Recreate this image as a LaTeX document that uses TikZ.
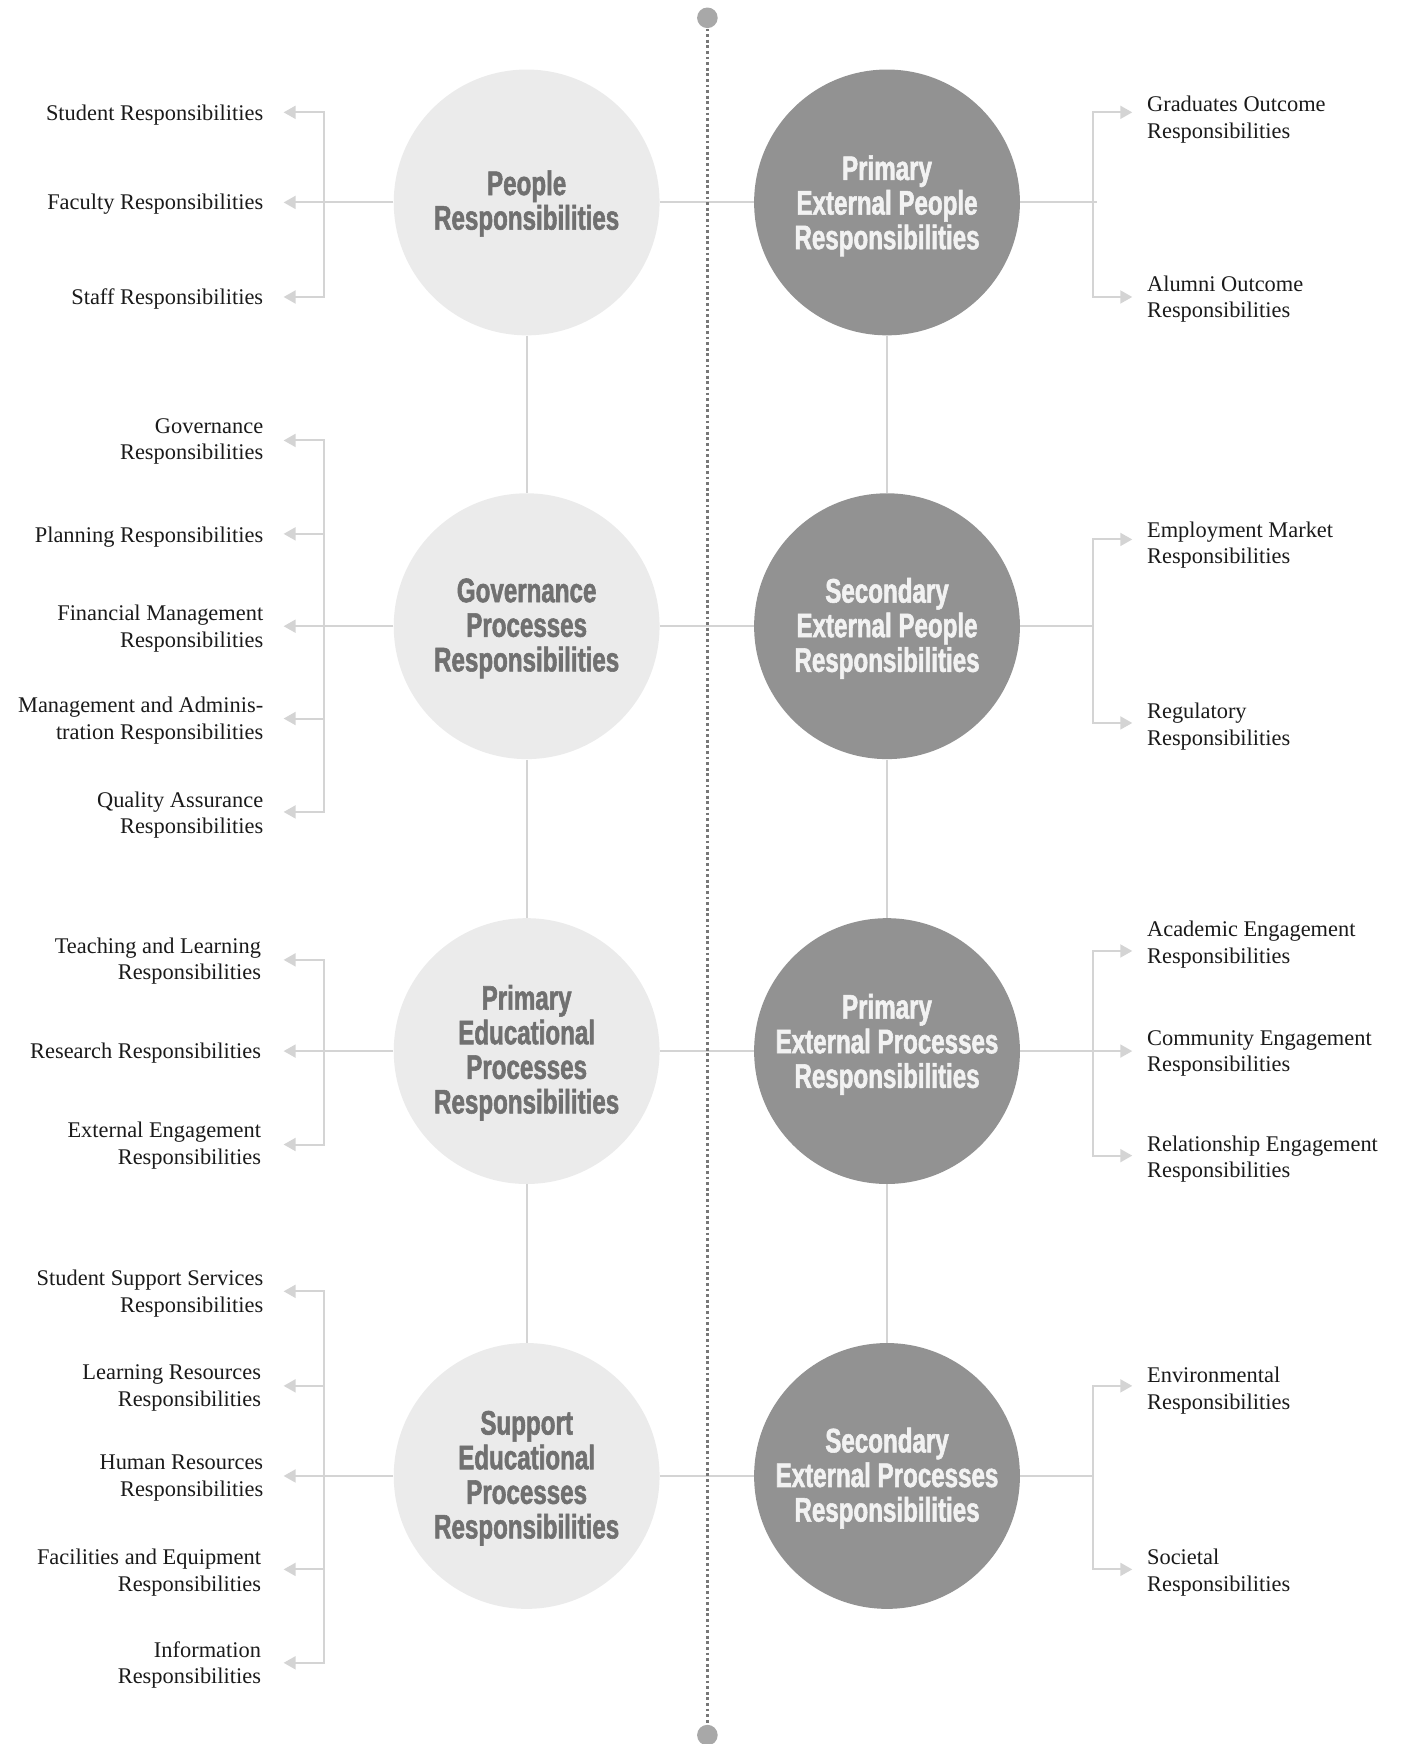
\documentclass[tikz,border=0pt]{standalone}
\usepackage{fontspec}
\setmainfont{Liberation Serif}
\newfontfamily\circfont[FakeStretch=0.71,FakeBold=1.6]{Liberation Sans}
\usetikzlibrary{arrows.meta}
\definecolor{lightc}{HTML}{EBEBEB}
\definecolor{darkc}{HTML}{929292}
\definecolor{lighttxt}{HTML}{707070}
\definecolor{darktxt}{HTML}{F2F2F2}
\definecolor{linec}{HTML}{D4D4D4}
\definecolor{dashc}{HTML}{777777}
\definecolor{dotc}{HTML}{A8A8A8}
\definecolor{lbltxt}{HTML}{1A1A1A}
\begin{document}
\begin{tikzpicture}[x=0.5561pt,y=-0.5561pt,
  circbase/.style={circle,minimum size=132.9pt,inner sep=0pt},
  lcirc/.style={circbase,fill=lightc},
  dcirc/.style={circbase,fill=darkc},
  ctext/.style={inner sep=0pt,align=center,font=\circfont\bfseries\fontsize{17}{17.3}\selectfont},
  ltext/.style={ctext,text=lighttxt},
  dtext/.style={ctext,text=darktxt},
  conn/.style={draw=linec,line width=1pt},
  arr/.style={conn,-{Triangle[length=6pt,width=6.5pt]}},
  lbl/.style={font=\fontsize{11.2}{13.3}\selectfont,inner sep=0pt,text=lbltxt,yshift=-1.4pt},
  llbl/.style={lbl,anchor=east,align=right},
  rlbl/.style={lbl,anchor=west,align=left},
  enddot/.style={circle,fill=dotc,minimum size=10.3pt,inner sep=0pt}
]
\useasboundingbox (0,0) rectangle (1260.6,1568);

% circles
\node[lcirc] (L1) at (473.5,182) {};
\node[lcirc] (L2) at (473.5,563) {};
\node[lcirc] (L3) at (473.5,945) {};
\node[lcirc] (L4) at (473.5,1327) {};
\node[dcirc] (R1) at (797.5,182) {};
\node[dcirc] (R2) at (797.5,563) {};
\node[dcirc] (R3) at (797.5,945) {};
\node[dcirc] (R4) at (797.5,1327) {};
% circle texts
\node[ltext] (L1t) at (473.5,183) {People\\Responsibilities};
\node[ltext] (L2t) at (473.5,565) {Governance\\Processes\\Responsibilities};
\node[ltext] (L3t) at (473.5,946.5) {Primary\\Educational\\Processes\\Responsibilities};
\node[ltext] (L4t) at (473.5,1329) {Support\\Educational\\Processes\\Responsibilities};
\node[dtext] (R1t) at (797.5,185) {Primary\\External People\\Responsibilities};
\node[dtext] (R2t) at (797.5,565) {Secondary\\External People\\Responsibilities};
\node[dtext] (R3t) at (797.5,939) {Primary\\External Processes\\Responsibilities};
\node[dtext] (R4t) at (797.5,1329) {Secondary\\External Processes\\Responsibilities};

% vertical links
\draw[conn] (L1) -- (L2);
\draw[conn] (L2) -- (L3);
\draw[conn] (L3) -- (L4);
\draw[conn] (R1) -- (R2);
\draw[conn] (R2) -- (R3);
\draw[conn] (R3) -- (R4);
% horizontal links
\draw[conn] (L1) -- (R1);
\draw[conn] (L2) -- (R2);
\draw[conn] (L3) -- (R3);
\draw[conn] (L4) -- (R4);

% center dashed line
\node[enddot] (dtop) at (636,16) {};
\node[enddot] (dbot) at (636,1560) {};
\draw[dashc,line width=1.3pt,dash pattern=on 1.4pt off 1.4pt] (dtop) -- (dbot);

% bracket coordinates
\coordinate (bL1) at (291,182);
\coordinate (bL2) at (291,563);
\coordinate (bL3) at (291,945);
\coordinate (bL4) at (291,1327);
\coordinate (bR1) at (983,182);
\coordinate (bR2) at (983,563);
\coordinate (bR3) at (983,945);
\coordinate (bR4) at (983,1327);

% arrow tips, left
\coordinate (tStu) at (255,101);
\coordinate (tFacu) at (255,182);
\coordinate (tSta) at (255,267);
\coordinate (tGov) at (255,396);
\coordinate (tPlan) at (255,480);
\coordinate (tFin) at (255,563);
\coordinate (tMan) at (255,646);
\coordinate (tQual) at (255,730);
\coordinate (tTeach) at (255,863);
\coordinate (tRes) at (255,945);
\coordinate (tExt) at (255,1029);
\coordinate (tSSS) at (255,1161);
\coordinate (tLR) at (255,1246);
\coordinate (tHR) at (255,1327);
\coordinate (tFE) at (255,1411);
\coordinate (tInfo) at (255,1495);
% arrow tips, right
\coordinate (tGrad) at (1018,101);
\coordinate (tAlum) at (1018,267);
\coordinate (tEmp) at (1018,485);
\coordinate (tReg) at (1018,650);
\coordinate (tAcad) at (1018,855);
\coordinate (tComm) at (1018,945);
\coordinate (tRel) at (1018,1039);
\coordinate (tEnv) at (1018,1246);
\coordinate (tSoc) at (1018,1411);

% left connectors
\draw[arr] (L1.west) -- (tFacu);
\draw[arr] (bL1) |- (tStu);
\draw[arr] (bL1) |- (tSta);
\draw[arr] (L2.west) -- (tFin);
\draw[arr] (bL2) |- (tGov);
\draw[arr] (bL2) |- (tPlan);
\draw[arr] (bL2) |- (tMan);
\draw[arr] (bL2) |- (tQual);
\draw[arr] (L3.west) -- (tRes);
\draw[arr] (bL3) |- (tTeach);
\draw[arr] (bL3) |- (tExt);
\draw[arr] (L4.west) -- (tHR);
\draw[arr] (bL4) |- (tSSS);
\draw[arr] (bL4) |- (tLR);
\draw[arr] (bL4) |- (tFE);
\draw[arr] (bL4) |- (tInfo);
% right connectors
\draw[conn] (R1.east) -- ([xshift=1.7pt]bR1);
\draw[arr] (bR1) |- (tGrad);
\draw[arr] (bR1) |- (tAlum);
\draw[conn] (R2.east) -- (bR2);
\draw[arr] (bR2) |- (tEmp);
\draw[arr] (bR2) |- (tReg);
\draw[arr] (R3.east) -- (tComm);
\draw[arr] (bR3) |- (tAcad);
\draw[arr] (bR3) |- (tRel);
\draw[conn] (R4.east) -- (bR4);
\draw[arr] (bR4) |- (tEnv);
\draw[arr] (bR4) |- (tSoc);

% left labels
\node[llbl] (nStu) at (237,101) {Student Responsibilities};
\node[llbl] (nFacu) at (237,181) {Faculty Responsibilities};
\node[llbl] (nSta) at (237,266) {Staff Responsibilities};
\node[llbl] (nGov) at (237,394.5) {Governance\\Responsibilities};
\node[llbl] (nPlan) at (237,480) {Planning Responsibilities};
\node[llbl] (nFin) at (237,562.5) {Financial Management\\Responsibilities};
\node[llbl] (nMan) at (237,645.5) {Management and Adminis-\\tration Responsibilities};
\node[llbl] (nQual) at (237,730.5) {Quality Assurance\\Responsibilities};
\node[llbl] (nTeach) at (235,861.5) {Teaching and Learning\\Responsibilities};
\node[llbl] (nRes) at (235,944) {Research Responsibilities};
\node[llbl] (nExt) at (235,1027.5) {External Engagement\\Responsibilities};
\node[llbl] (nSSS) at (237,1160.5) {Student Support Services\\Responsibilities};
\node[llbl] (nLR) at (235,1245.5) {Learning Resources\\Responsibilities};
\node[llbl] (nHR) at (237,1326.5) {Human Resources\\Responsibilities};
\node[llbl] (nFE) at (235,1411.5) {Facilities and Equipment\\Responsibilities};
\node[llbl] (nInfo) at (235,1494.5) {Information\\Responsibilities};
% right labels
\node[rlbl] (nGrad) at (1031,105) {Graduates Outcome\\Responsibilities};
\node[rlbl] (nAlum) at (1031,266.5) {Alumni Outcome\\Responsibilities};
\node[rlbl] (nEmp) at (1031,487.5) {Employment Market\\Responsibilities};
\node[rlbl] (nReg) at (1031,650.5) {Regulatory\\Responsibilities};
\node[rlbl] (nAcad) at (1031,846.5) {Academic Engagement\\Responsibilities};
\node[rlbl] (nComm) at (1031,944.5) {Community Engagement\\Responsibilities};
\node[rlbl] (nRel) at (1031,1039.5) {Relationship Engagement\\Responsibilities};
\node[rlbl] (nEnv) at (1031,1247.5) {Environmental\\Responsibilities};
\node[rlbl] (nSoc) at (1031,1411.5) {Societal\\Responsibilities};
\end{tikzpicture}
\end{document}
